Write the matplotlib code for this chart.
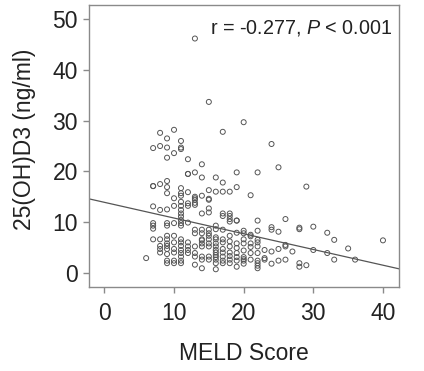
import matplotlib
matplotlib.use("Agg")
import matplotlib.pyplot as plt
import numpy as np

# MELD score columns and the 25(OH)D3 values read at each
columns = {
    6: [2.9],
    7: [24.6, 17.1, 17.1, 13.1, 9.8, 9.3, 8.7, 6.6],
    8: [27.6, 25.0, 17.5, 12.4, 6.6, 5.3, 4.7, 4.0],
    9: [26.5, 24.7, 22.7, 18.1, 16.9, 15.7, 12.5, 9.8, 9.3, 7.3, 6.6, 5.8, 5.3, 4.7, 3.7, 2.4, 1.9],
    10: [28.2, 23.6, 14.7, 13.2, 9.8, 7.3, 6.0, 4.7, 4.0, 2.4, 1.9],
    11: [26.0, 24.7, 24.4, 16.7, 15.7, 15.2, 14.0, 13.2, 12.4, 11.7, 11.1, 10.4, 9.8, 9.3, 6.6, 6.0, 5.3, 4.5, 3.9, 3.2, 2.4, 1.9],
    12: [22.4, 19.5, 19.5, 15.9, 13.7, 13.2, 9.9, 6.0, 5.2, 4.5, 3.9],
    13: [46.2, 19.8, 15.0, 14.7, 14.4, 13.8, 13.4, 8.5, 7.8, 5.2, 3.9, 3.2, 1.6],
    14: [21.4, 18.8, 15.2, 11.7, 8.5, 7.8, 6.6, 6.4, 5.8, 5.2, 3.2, 2.6, 0.9],
    15: [33.7, 16.3, 14.6, 14.4, 12.7, 11.9, 8.5, 7.8, 7.3, 6.6, 5.8, 5.2, 3.2, 2.6],
    16: [18.8, 16.0, 9.3, 8.6, 7.0, 6.6, 5.8, 5.2, 4.5, 4.0, 3.5, 3.1, 2.6, 1.9, 0.7],
    17: [27.8, 17.8, 16.0, 11.7, 11.2, 8.5, 6.6, 6.0, 4.7, 4.0, 3.2, 2.4, 1.9],
    18: [16.0, 11.7, 11.2, 10.6, 10.1, 7.3, 6.2, 5.2, 4.0, 3.3, 2.6, 1.9],
    19: [19.8, 16.9, 10.3, 10.3, 7.9, 5.8, 4.9, 3.9, 3.1, 2.4, 1.2],
    20: [29.7, 8.3, 7.8, 6.6, 5.8, 4.4, 3.1, 2.7, 2.4, 1.8],
    21: [15.3, 7.5, 7.2, 5.8, 5.1, 3.9, 2.6],
    22: [19.8, 10.3, 8.3, 6.5, 6.0, 5.2, 3.9, 2.4, 1.9, 1.4, 0.9],
    23: [4.5, 2.9, 2.6],
    24: [25.4, 9.0, 8.5, 4.2, 1.8],
    25: [20.8, 8.1, 4.7, 2.4],
    26: [10.6, 5.5, 5.2, 2.6],
    27: [4.2],
    28: [8.9, 8.6, 1.9, 1.2],
    29: [17.0, 1.5],
    30: [9.1, 4.5],
    32: [7.9, 3.9],
    33: [6.5, 2.6],
    35: [4.8],
    36: [2.6],
    40: [6.4],
}
meld = [k for k, v in columns.items() for _ in v]
vitd = [y for v in columns.values() for y in v]

fit_intercept = 13.9
fit_slope = -0.31
x_ticks = [0, 10, 20, 30, 40]
y_ticks = [0, 10, 20, 30, 40, 50]
annotation = "r = -0.277, $\\it{P}$ < 0.001"

plt.rcParams['font.family'] = ['Liberation Sans', 'DejaVu Sans']
plt.rcParams['mathtext.fontset'] = 'custom'
plt.rcParams['mathtext.it'] = 'Liberation Sans:italic'
plt.rcParams['mathtext.rm'] = 'Liberation Sans'

fig = plt.figure(figsize=(4.24, 3.71), dpi=100)
ax = fig.add_axes([0.21, 0.2264, 0.731, 0.760])

ax.scatter(meld, vitd, s=13, facecolors='none', edgecolors='#555555', linewidths=0.7, zorder=3)
ax.axline((0, fit_intercept), slope=fit_slope, color='#555555', lw=0.9, zorder=2)

ax.set_xlim(-2.2, 42.3)
ax.set_ylim(-2.8, 52.8)
ax.set_xticks(x_ticks)
ax.set_yticks(y_ticks)

for sp in ax.spines.values():
    sp.set_color('#8a8a8a')
    sp.set_linewidth(1.0)
ax.tick_params(axis='both', colors='#8a8a8a', labelcolor='#222222', labelsize=16.5, length=4, width=1.0)
ax.tick_params(axis='x', pad=7)
ax.tick_params(axis='y', pad=4)

ax.set_xlabel("MELD Score", fontsize=16.5, color='#222222', labelpad=12)
ax.set_ylabel("25(OH)D3 (ng/ml)", fontsize=16.5, color='#222222')
ax.yaxis.set_label_coords(-0.17, 0.525)

ax.text(0.977, 0.918, annotation, transform=ax.transAxes, ha='right', va='center',
        fontsize=14.2, color='#222222')

fig.savefig("out.png", dpi=100)
